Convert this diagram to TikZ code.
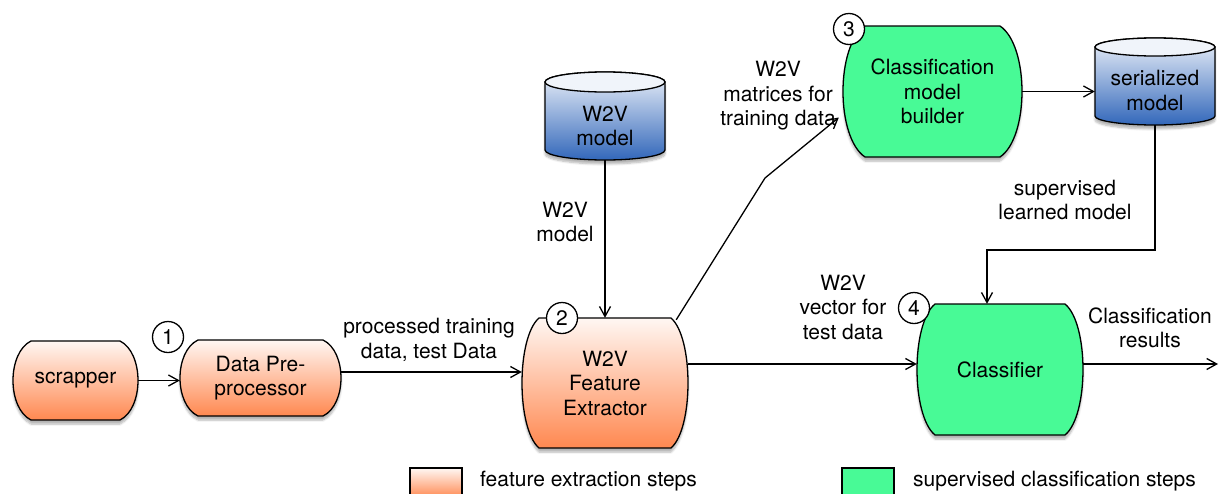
\documentclass[tikz,border=0pt]{standalone}
\usepackage{fontspec}
\setmainfont{TeX Gyre Heros}
\usetikzlibrary{arrows.meta,shadows.blur}

\definecolor{orangetop}{RGB}{255,247,243}
\definecolor{orangebot}{RGB}{255,136,80}
\definecolor{stepgreen}{RGB}{72,250,150}
\definecolor{bluetop}{RGB}{236,241,249}
\definecolor{bluebot}{RGB}{50,103,186}
\definecolor{capfill}{RGB}{240,244,250}

\newcommand\lblfont{\fontsize{21}{24.5}\selectfont}

\tikzset{
  outline/.style={draw=black, line width=1.3pt},
  softshadow/.style={blur shadow={shadow xshift=0pt, shadow yshift=-4pt,
      shadow opacity=30, shadow blur steps=6}},
  featurefill/.style={top color=orangetop, bottom color=orangebot},
  featurestep/.style={outline, featurefill, softshadow},
  classstep/.style={outline, fill=stepgreen, softshadow},
  store/.style={outline, top color=bluetop, bottom color=bluebot, softshadow},
  boxtext/.style={align=center, inner sep=0pt, font=\lblfont},
  stepnum/.style={circle, draw=black, line width=1.3pt, fill=white,
      minimum size=31pt, inner sep=0pt, font=\lblfont},
  flow/.style={line width=1.3pt, -{Straight Barb[length=10pt,width=11pt]}},
  edgelabel/.style={align=center, inner sep=0pt, font=\lblfont},
  legendbox/.style={outline, minimum width=52pt, minimum height=30pt, inner sep=0pt},
  legendtext/.style={anchor=west, inner sep=0pt, font=\lblfont}
}

% process step: straight top and bottom, bulging sides
% #1 name, #2 x1, #3 y1, #4 x2, #5 y2, #6 bulge, #7 style, #8 text
\newcommand\stepbox[8]{%
  \path[#7] ({#2+#6},#3) -- ({#4-#6},#3)
    .. controls ({#4+#6/3},{#3+0.15*(#5-#3)}) and ({#4+#6/3},{#5-0.15*(#5-#3)}) .. ({#4-#6},#5)
    -- ({#2+#6},#5)
    .. controls ({#2-#6/3},{#5-0.15*(#5-#3)}) and ({#2-#6/3},{#3+0.15*(#5-#3)}) .. cycle;
  \node[boxtext, minimum width={#4-#2}, minimum height={#5-#3}] (#1)
    at ({(#2+#4)/2},{(#3+#5)/2}) {#8};
}

% data store: cylinder
% #1 name, #2 x1, #3 x2, #4 y top, #5 y bottom, #6 cap radius, #7 text
\newcommand\storecyl[7]{%
  \path[store] (#2,{#4+#6}) -- (#2,{#5-#6})
    arc[start angle=180, end angle=0, x radius={(#3-#2)/2}, y radius=#6]
    -- (#3,{#4+#6})
    arc[start angle=0, end angle=-180, x radius={(#3-#2)/2}, y radius=#6] -- cycle;
  \path[outline, fill=capfill] ({(#2+#3)/2},{#4+#6})
    ellipse[x radius={(#3-#2)/2}, y radius=#6];
  \node[boxtext, minimum width={#3-#2}, minimum height={#5-#4-2*#6}] (#1)
    at ({(#2+#3)/2},{(#4+2*#6+#5)/2}) {#7};
}

\begin{document}
\begin{tikzpicture}[x=1pt, y=-1pt]
\clip (0,0) rectangle (1219,493);

% steps
\stepbox{scr}{13}{341}{138}{420}{18}{featurestep}{scrapper}
\stepbox{pre}{180}{340}{341}{416}{18}{featurestep}{Data Pre-\\processor}
\stepbox{ext}{522}{318}{688}{448}{17}{featurestep}{W2V\\Feature\\Extractor}
\stepbox{bld}{843}{26}{1022}{157}{22}{classstep}{Classification\\model\\builder}
\stepbox{cls}{917}{304}{1083}{435}{18}{classstep}{Classifier}

% stores
\storecyl{w2v}{545}{665}{72}{160}{10}{W2V\\model}
\storecyl{ser}{1095}{1215}{38}{125}{9}{serialized\\model}

% step numbers
\node[stepnum] (n1) at (168,337) {1};
\node[stepnum] (n2) at (562,318) {2};
\node[stepnum] (n3) at (849,29) {3};
\node[stepnum] (n4) at (914,308) {4};

% connectors
\draw[flow] (scr.east) -- (scr.east -| pre.west);

\coordinate (pe) at ([yshift=6pt]pre.east);
\draw[flow] (pe) -- (pe -| ext.west);
\node[edgelabel] (lpe) at (429,340) {processed training\\data, test Data};

\draw[flow] (w2v.south) -- (ext.north);
\node[edgelabel] (lw2v) at (565,222) {W2V\\model};

\coordinate (xs) at ([xshift=-12pt, yshift=-2pt]ext.north east);
\coordinate (kink) at (765,178);
\coordinate (xe) at ([xshift=-4pt, yshift=-26pt]bld.west);
\draw[line width=1.3pt] (xs) -- (kink);
\draw[flow] (kink) -- (xe);
\node[edgelabel] (lmat) at (778,96) {W2V\\matrices for\\training data};

\draw[flow] (bld.east) -- (bld.east -| ser.west);

\coordinate (bend) at (987,250);
\draw[flow] (ser.south) |- (bend) -- (bend |- cls.north);
\node[edgelabel] (lsup) at (1065,200) {supervised\\learned model};

\coordinate (ev) at ([yshift=19pt]ext.east);
\draw[flow] (ev) -- (ev -| cls.west);
\node[edgelabel] (lvec) at (843,307) {W2V\\vector for\\test data};

\coordinate (out) at (1218,364);
\draw[flow] (out -| cls.east) -- (out);
\node[edgelabel] (lres) at (1150,328) {Classification\\results};

% legend
\node[legendbox, featurefill] (lgf) at (436,483) {};
\node[legendtext] (lgft) at (480,481) {feature extraction steps};
\node[legendbox, fill=stepgreen] (lgc) at (868,483) {};
\node[legendtext] (lgct) at (913,481) {supervised classification steps};
\end{tikzpicture}
\end{document}
